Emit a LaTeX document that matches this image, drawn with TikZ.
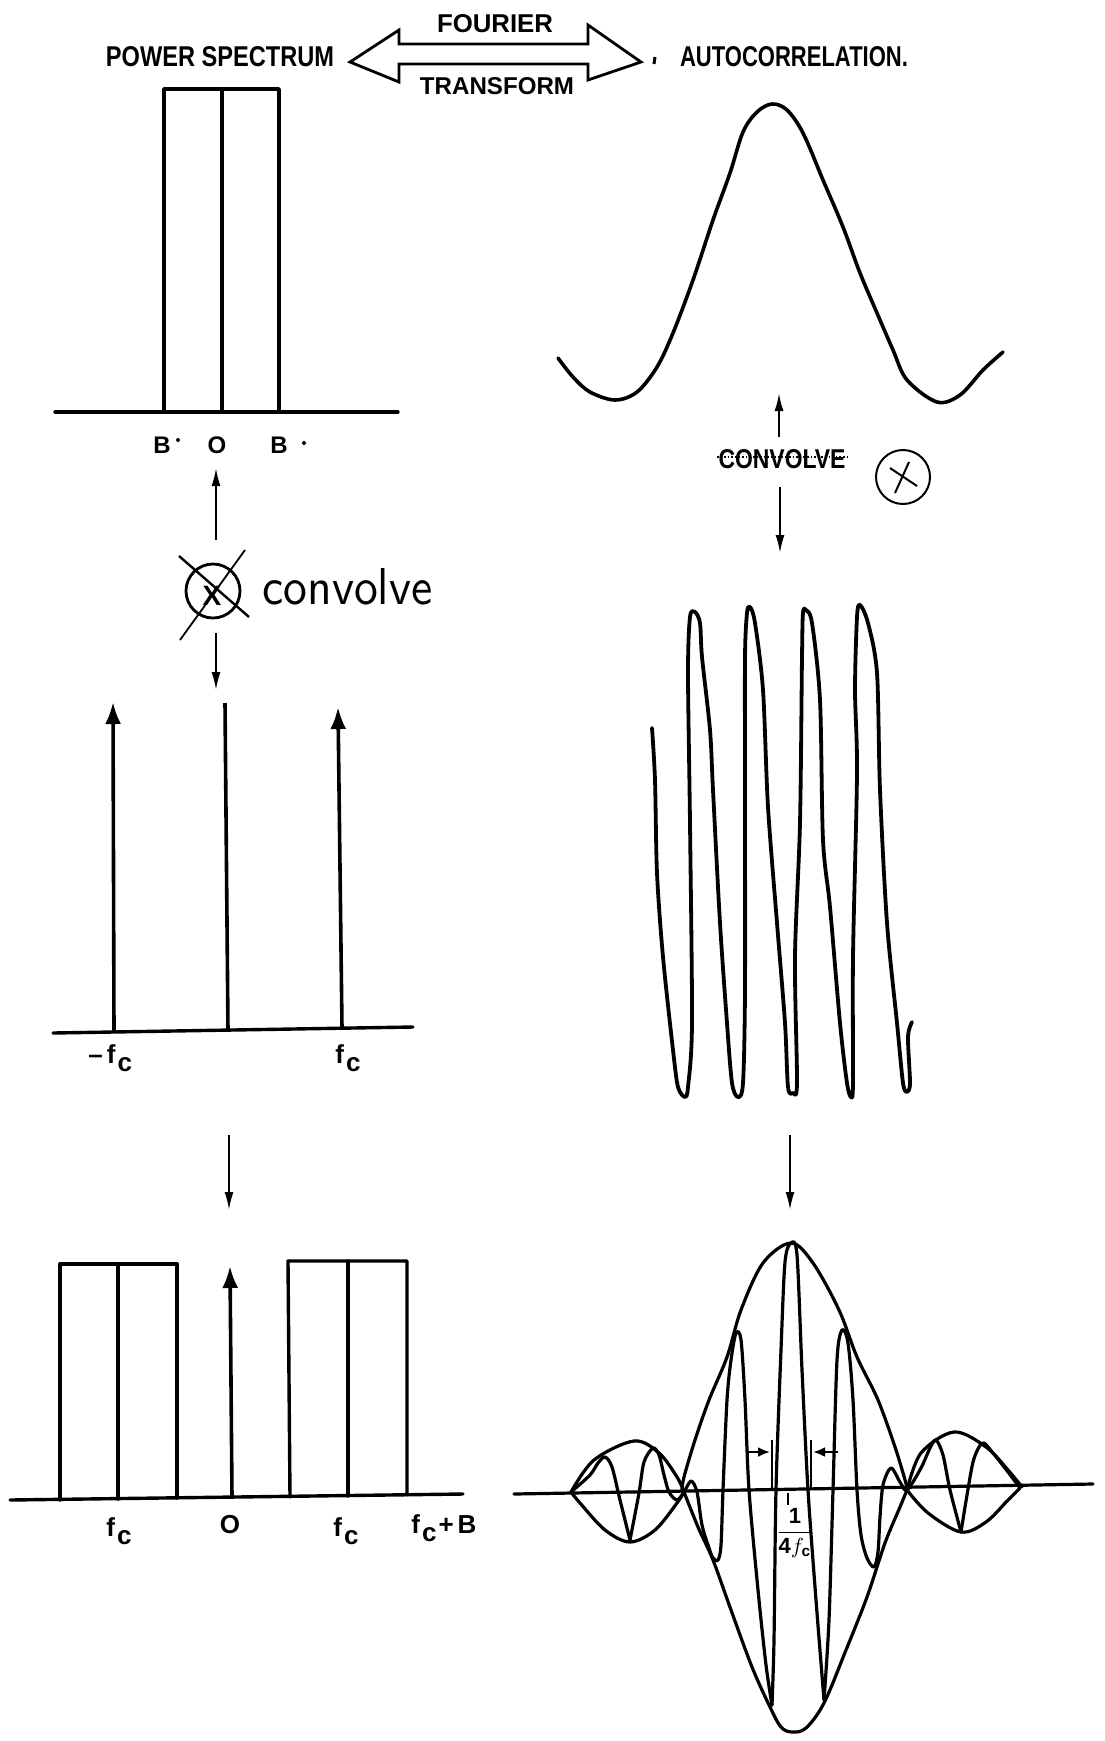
\documentclass[tikz,border=0pt]{standalone}
\usepackage{fontspec}
\setmainfont{Liberation Sans}
\setsansfont{Liberation Sans}
\usetikzlibrary{arrows.meta}
\newcommand\fitlab[3]{\resizebox{#1}{#2}{#3}}
\newcommand\fcl{f\kern1pt\raisebox{-0.6ex}{c}}
\begin{document}
\begin{tikzpicture}[x=0.5pt,y=-0.5pt,
  thickline/.style={line width=1.7pt, line cap=round, line join=round},
  curveline/.style={line width=1.8pt, line cap=round, line join=round},
  waveline/.style={line width=1.6pt, line cap=round, line join=round},
  thinarrow/.style={line width=1pt, -{Latex[length=9pt,width=4.5pt]}},
  spike/.style={line width=1.8pt, -{Latex[length=11pt,width=8pt]}},
  lbl/.style={inner sep=0pt, font=\bfseries\fontsize{12}{14}\selectfont},
  flbl/.style={inner sep=0pt, font=\bfseries\fontsize{13}{15}\selectfont},
  capnode/.style={inner sep=0pt, font=\bfseries}
]
\useasboundingbox[fill=white] (0,0) rectangle (1104,1741);

% ---------- header ----------
\node[capnode] (ps) at (220,57) {\fitlab{114pt}{10pt}{POWER SPECTRUM}};
\node[capnode] (four) at (495,24) {\fitlab{58pt}{9pt}{FOURIER}};
\node[capnode] (tran) at (497,86) {\fitlab{77pt}{8.5pt}{TRANSFORM}};
\node[capnode] (ac) at (794,57) {\fitlab{114pt}{10pt}{AUTOCORRELATION.}};
\draw[line width=1.5pt] (655,57) -- (654,64);
\draw[line width=1.4pt, line join=miter]
  (399,44) -- (399,30) -- (350,62) -- (399,82) -- (399,64) -- (588,64)
  -- (588,80) -- (641,62) -- (588,25) -- (588,44) -- cycle;

% ---------- top-left: power spectrum ----------
\draw[thickline] (55,412) -- (398,412);
\draw[thickline] (164,412) -- (164,89) -- (279,89) -- (279,412);
\draw[thickline] (222,89) -- (222,412);
\node[lbl, anchor=base] (b1) at (162,453) {B};
\node[lbl, anchor=base] (o1) at (217,453) {O};
\node[lbl, anchor=base] (b2) at (279,453) {B};
\fill (178,440) circle[radius=1pt];
\fill (304,443) circle[radius=1pt];

% convolve (left)
\coordinate (lu1) at (216,540); \coordinate (lu2) at (216,468);
\draw[thinarrow] (lu1) -- (lu2);
\coordinate (ld1) at (216,633); \coordinate (ld2) at (216,690);
\draw[thinarrow] (ld1) -- (ld2);
\draw[line width=1.4pt] (213,591) circle[radius=13.5pt];
\draw[line width=1.2pt] (179,556) -- (249,617);
\draw[line width=0.9pt] (245,550) -- (180,640);
\node[inner sep=0pt, font=\bfseries\fontsize{14}{16}\selectfont] (lx) at (212,596) {X};
\node[inner sep=0pt, anchor=base west, font=\fontfamily{lmss}\selectfont] (conv) at (262,604) {\fitlab{85pt}{18pt}{convolve}};

% ---------- middle-left: impulses ----------
\draw[thickline] (53,1033) -- (413,1027);
\draw[spike] (114,1032) -- (113,702);
\draw[line width=1.8pt] (228,1031) -- (225,703);
\draw[spike] (342,1028) -- (338,707);
\node[flbl, anchor=base west] (mfc) at (88,1063) {\textendash\kern2pt\fcl};
\node[flbl, anchor=base west] (pfc) at (335,1063) {\fcl};

\coordinate (la1) at (229,1135); \coordinate (la2) at (229,1210);
\draw[thinarrow] (la1) -- (la2);

% ---------- bottom-left: shifted spectrum ----------
\draw[thickline] (10,1500) -- (463,1494);
\draw[thickline] (60,1500) -- (60,1264) -- (177,1264) -- (177,1498);
\draw[thickline] (118,1264) -- (118,1499);
\draw[spike] (232,1497) -- (230,1266);
\draw[thickline] (290,1497) -- (288,1261) -- (407,1261) -- (407,1495);
\draw[thickline] (348,1261) -- (348,1496);
\node[flbl, anchor=base west] (bfc1) at (106,1536) {\fcl};
\node[flbl, anchor=base] (bo) at (230,1533) {O};
\node[flbl, anchor=base west] (bfc2) at (333,1536) {\fcl};
\node[flbl, anchor=base west] (bfcb) at (411,1533) {\fcl\kern1pt+\kern2pt B};

% ---------- top-right: autocorrelation ----------
\draw[curveline] plot[smooth, tension=0.55] coordinates {
 (558,358) (573,377) (590,392) (615,400) (637,392) (657,367) (673,333)
 (693,280) (713,220) (730,173) (743,132) (757,112) (772,104) (787,110)
 (803,133) (823,180) (843,227) (860,273) (877,313) (893,350) (907,380)
 (937,402) (960,395) (983,370) (1003,352)};

\coordinate (ru1) at (779,437); \coordinate (ru2) at (779,393);
\draw[thinarrow] (ru1) -- (ru2);
\coordinate (rd1) at (780,487); \coordinate (rd2) at (780,553);
\draw[thinarrow] (rd1) -- (rd2);
\node[capnode] (convr) at (782,459) {\fitlab{63.5pt}{9.5pt}{CONVOLVE}};
\draw[densely dotted, line width=0.8pt] (717,457) -- (849,457);
\draw[line width=1pt] (903,477) circle[radius=13.5pt];
\draw[line width=1pt] (909,462) -- (895,493);
\draw[line width=1pt] (890,468) -- (917,486);

% ---------- middle-right: carrier ----------
\draw[line width=1.9pt, line cap=round, line join=round] plot[smooth, tension=0.5] coordinates {
 (652,728) (655,780) (657,873) (663,957) (673,1050) (678,1087) (685,1097)
 (688,1087) (692,1023) (690,823) (688,673) (690,617) (695,612) (700,623)
 (702,657) (710,730) (713,790) (720,923) (727,1023) (732,1083) (738,1097)
 (743,1083) (745,990) (745,790) (745,657) (747,613) (750,607) (755,623)
 (763,690) (768,807) (777,923) (785,1023) (788,1087) (793,1093) (797,1083)
 (795,957) (800,823) (802,657) (803,613) (806,610) (812,623) (820,700)
 (823,840) (830,907) (840,1023) (847,1083) (851,1097) (853,1083) (853,957)
 (857,773) (855,690) (857,617) (860,605) (868,623) (877,673) (880,790)
 (887,923) (897,1023) (903,1083) (907,1092) (910,1083) (908,1037) (912,1022)};

\coordinate (ra1) at (790,1135); \coordinate (ra2) at (790,1210);
\draw[thinarrow] (ra1) -- (ra2);

% ---------- bottom-right: modulated autocorrelation ----------
\draw[waveline] (514,1494) -- (1093,1484);
% envelopes
\draw[waveline] plot[smooth, tension=0.55] coordinates {
 (682,1490) (684,1477) (695,1440) (709,1400) (727,1357) (741,1310) (763,1263)
 (791,1243) (813,1263) (839,1310) (857,1357) (878,1400) (896,1450) (907,1487)};
\draw[waveline] plot[smooth, tension=0.55] coordinates {
 (684,1492) (698,1527) (713,1560) (731,1610) (752,1667) (770,1707) (781,1727)
 (792,1732) (806,1728) (824,1703) (846,1650) (867,1597) (885,1543) (900,1507) (907,1490)};
\draw[waveline] plot[smooth, tension=0.55] coordinates {
 (571,1492) (594,1460) (634,1441) (659,1453) (677,1477) (684,1492)};
\draw[waveline] plot[smooth, tension=0.55] coordinates {
 (571,1492) (580,1503) (605,1530) (630,1542) (655,1530) (677,1503) (684,1492)};
\draw[waveline] plot[smooth, tension=0.55] coordinates {
 (907,1490) (921,1453) (954,1432) (986,1447) (1008,1470) (1022,1487)};
\draw[waveline] plot[smooth, tension=0.55] coordinates {
 (907,1490) (928,1513) (961,1532) (986,1522) (1008,1500) (1020,1488)};
% carrier
\draw[waveline] plot[smooth, tension=0.5] coordinates {
 (571,1492) (590,1475) (598,1463) (605,1457) (612,1467) (620,1500) (630,1540)};
\draw[waveline] plot[smooth, tension=0.5] coordinates {
 (630,1540) (639,1493) (644,1462) (653,1448) (659,1455) (664,1475) (669,1492)
 (677,1500) (684,1492) (691,1481) (697,1492) (702,1525) (709,1548) (713,1558)
 (718,1560) (721,1545) (723,1490) (727,1400) (731,1360) (736,1333) (741,1340)
 (745,1400) (749,1490) (758,1590) (766,1665) (772,1705)};
\draw[waveline] plot[smooth, tension=0.5] coordinates {
 (772,1705) (774,1640) (776,1490) (781,1350) (785,1262) (791,1243) (797,1255)
 (802,1370) (808,1490) (816,1600) (824,1700)};
\draw[waveline] plot[smooth, tension=0.5] coordinates {
 (824,1700) (829,1620) (833,1490) (837,1360) (842,1330) (848,1343) (853,1400)
 (857,1490) (861,1535) (867,1558) (874,1567) (878,1552) (880,1517) (883,1485)
 (891,1468) (900,1482) (907,1490) (921,1468) (930,1448) (936,1440) (943,1455)
 (950,1490) (961,1532)};
\draw[waveline] plot[smooth, tension=0.5] coordinates {
 (961,1532) (967,1495) (973,1462) (979,1447) (984,1443) (993,1453) (1008,1472) (1020,1488)};

% 1/(4 fc) annotation
\coordinate (al1) at (747,1452); \coordinate (al2) at (770,1452);
\draw[line width=1.2pt, -{Latex[length=6pt,width=5pt]}] (al1) -- (al2);
\draw[line width=1.2pt] (772,1440) -- (772,1488);
\coordinate (ar1) at (838,1452); \coordinate (ar2) at (813,1452);
\draw[line width=1.2pt, -{Latex[length=6pt,width=5pt]}] (ar1) -- (ar2);
\draw[line width=1.2pt] (811,1440) -- (811,1488);
\draw[line width=1.2pt] (788,1493) -- (788,1505);
\node[inner sep=0pt, font=\fontsize{11}{13}\selectfont] (frac) at (795,1533)
  {$\displaystyle\frac{\mathbf{1}}{\mathbf{4}f_{\mathbf{c}}}$};
\end{tikzpicture}
\end{document}
